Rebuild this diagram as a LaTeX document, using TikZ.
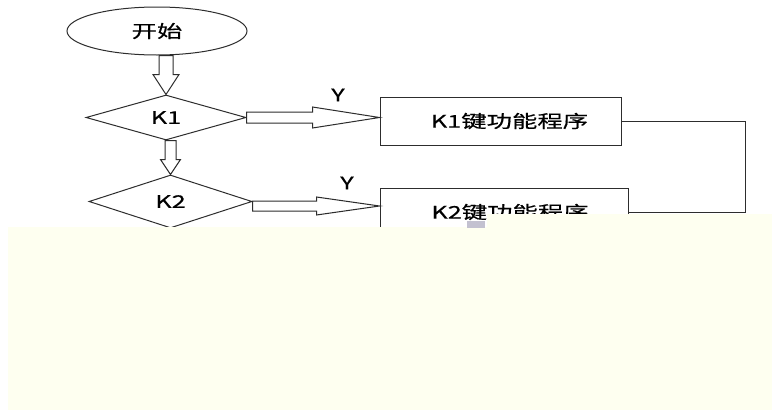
\documentclass[tikz,border=0pt]{standalone}
\usepackage{fontspec}
\newfontfamily\cjkfont[FakeStretch=1.45,FakeBold=0.6]{Noto Sans CJK SC}
\usetikzlibrary{shapes.geometric,calc}
\definecolor{ln}{RGB}{45,45,45}
\definecolor{pale}{RGB}{254,255,240}
\definecolor{smudge}{RGB}{195,193,208}
\newcommand\myblockdown[5]{%
  \draw[blockarr] let \p1=(#1), \p2=(#2) in
  ({\x2-#3pt},\y1) -- ({\x2-#3pt},{\y2+#5pt}) -- ({\x2-#4pt},{\y2+#5pt}) -- (\x2,\y2)
  -- ({\x2+#4pt},{\y2+#5pt}) -- ({\x2+#3pt},{\y2+#5pt}) -- ({\x2+#3pt},\y1) -- cycle;}
\newcommand\myblockright[5]{%
  \draw[blockarr] let \p1=(#1), \p2=(#2) in
  (\x1,{\y1+#3pt}) -- ({\x2-#5pt},{\y1+#3pt}) -- ({\x2-#5pt},{\y1+#4pt}) -- (\x2,\y1)
  -- ({\x2-#5pt},{\y1-#4pt}) -- ({\x2-#5pt},{\y1-#3pt}) -- (\x1,{\y1-#3pt}) -- cycle;}
\begin{document}
\begin{tikzpicture}[x=1pt,y=-1pt,line width=1pt,
  font=\cjkfont\fontsize{17.5}{20}\selectfont,
  startnode/.style={ellipse,draw=ln,minimum width=180pt,minimum height=48pt,inner sep=0pt},
  decision/.style={diamond,draw=ln,aspect=3.5,minimum width=160pt,minimum height=45pt,inner sep=0pt},
  procbox/.style={rectangle,draw=ln,minimum height=48pt,inner sep=0pt},
  blockarr/.style={draw=ln,fill=white,line join=miter},
  wire/.style={draw=ln}]
\fill[white] (0,0) rectangle (772,410);
\useasboundingbox (0,0) rectangle (772,410);

\node[startnode] (start) at (157,31) {开始};
\node[decision] (k1) at (166,117.5) {K1};
\node[decision,minimum width=163pt,minimum height=53pt] (k2) at (170.5,201.5) {K2};
\node[procbox,minimum width=241pt] (p1) at (500.5,121) {\hspace*{18pt}K1键功能程序};
\node[procbox,minimum width=248pt] (p2) at (504,212) {\hspace*{12pt}K2键功能程序};
\node (y1) at (338,95) {Y};
\node (y2) at (347,183) {Y};

\myblockdown{start.south}{k1.north}{7}{13}{20}
\myblockdown{k1.south}{k2.north}{5.5}{10}{15}
\myblockright{k1.east}{p1.west}{5.5}{10.5}{67}
\coordinate (a2) at ($(k2.east)+(0,4.5)$);
\myblockright{a2}{p2.west}{5}{9}{63}

\coordinate (turn) at (745,0);
\draw[wire] (p1.east) -| (turn |- p2.east) -- (p2.east);

\fill[pale] (8,227) rectangle (772,410);
\fill[pale] (487,214) rectangle (772,227);
\fill[smudge] (467,221) rectangle (485,228);
\end{tikzpicture}
\end{document}
